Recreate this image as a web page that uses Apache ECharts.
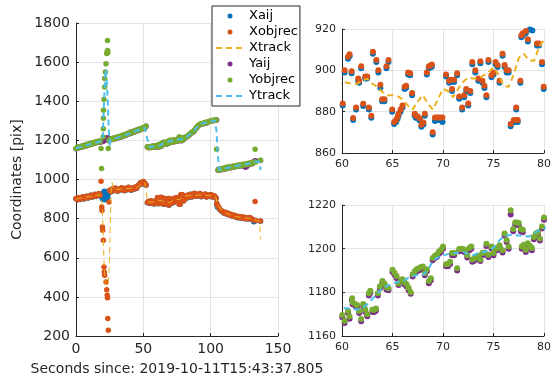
<!DOCTYPE html>
<html>
<head>
<meta charset="utf-8">
<script src="https://cdn.jsdelivr.net/npm/echarts/dist/echarts.min.js"></script>
<style>
  html, body { margin: 0; padding: 0; background: #fff; }
  #chart { width: 554px; height: 383px; }
</style>
</head>
<body>
<div id="chart"></div>
<script>
// detections, X coordinate (time in s since start)
const tX = [
  0,1,2,3,4,5,6,7,8,9,10,11,12,13,14,15,16,17,18,
  18.6,19.1,19.3,19.6,19.8,20.3,20.8,21.0,21.3,22.3,22.8,23.2,23.4,23.6,24.0,24.5,
  25,26,27,28,29,30,31,32,33,34,35,36,37,38,39,40,41,42,43,44,45,46,47,48,49,50,51,52,
  53,54,55,56,57,58,59,
  60.07,60.26,60.6,60.75,60.95,61.1,61.4,61.6,61.7,61.9,
  62.1,62.3,62.5,62.66,62.9,63.06,63.4,63.6,63.8,63.98,
  64.2,64.4,64.6,64.97,65.16,65.36,65.5,65.6,65.8,65.99,
  66.2,66.35,66.55,66.75,66.94,67.2,67.3,67.5,67.7,67.86,
  68.06,68.2,68.4,68.6,68.8,68.9,68.98,69.2,69.4,69.55,
  69.75,69.95,70.3,70.6,70.75,70.9,71.1,71.4,71.6,71.9,
  72.1,72.3,72.5,72.7,72.9,73.2,73.5,73.7,73.9,74.1,
  74.3,74.5,74.8,75.0,75.2,75.4,75.6,75.9,76.1,76.3,
  76.5,76.7,77.0,77.2,77.25,77.4,77.66,77.76,77.9,78.06,
  78.2,78.4,78.6,78.85,79.05,79.3,79.5,79.8,79.97,
  81,82,83,84,85,86,87,88,89,90,91,92,93,94,95,96,97,98,99,100,101,102,103,
  104,104.5,105,106,107,108,109,110,111,112,113,114,115,116,117,118,119,120,121,122,
  123,124,125,126,127,128,129,130,131,132,133,133.5,137
];
const xObjrec = [
  903,897,908,899,905,912,901,909,915,906,913,920,910,918,924,914,922,928,919,
  991,860,842,757,740,689,553,527,510,476,437,408,396,289,229,885,
  945,938,952,944,956,948,941,953,947,958,950,944,955,949,960,952,946,957,951,962,955,968,975,984,978,990,982,972,
  882,889,878,891,884,876,887,
  884,900,906.6,907.8,899.6,876.9,882,896,895,902,
  883.8,897,897,882,878,909,905,900,893,886,
  886,902,905,881,875,876,877.4,879,881,883,
  892,892.6,899,898.6,889,879,878,877.7,876.7,873.7,
  874.8,879,899,902,902.5,902.8,870,877.2,877.2,877.2,
  877.2,877.2,898,895,895.4,891,895.4,898.6,887.3,882,
  888,891,884,890,904,900,896,904.4,895,892.5,
  888,905,897.6,899,904,902.6,895,908,902.6,900,
  900,874,876,876,882,876,895,917,918,923,
  919,915,920.8,920.3,921.8,913,913,904,892,
  915,905,920,910,925,912,921,930,915,924,918,928,913,922,917,926,911,920,915,923,912,918,914,
  905,880,868,858,846,840,835,829,832,824,827,819,822,815,818,810,813,806,811,804,
  809,802,807,800,805,799,806,801,796,792,888,790,788
];
const xAij = [
  902,896,907,898,904,911,900,908,914,905,912,919,909,917,923,913,921,927,918,
  921,915,908,925,899,930,905,940,896,920,935,902,925,912,930,938,
  944,937,951,943,955,947,940,952,946,957,949,943,954,948,959,951,945,956,950,961,954,967,974,983,977,989,981,971,
  881,888,877,890,883,875,886,
  883,899,905.6,906.8,898.6,876,881,895,894,901,
  882.8,896,896,881,877,908,904,899,891.5,885,
  885,901,904,880,874,875,876.4,878,880,882,
  891,891.6,898,897.6,888,878,877,876.7,875.7,872.7,
  873.8,878,898,901,901.5,901.8,869,875.5,876,876,
  876,875,897,894,894.4,890,894.4,897.6,886.3,881,
  887,890,883,889,903,899,895,903.4,894,891.5,
  887,904,896.6,898,903,901.6,894,907,901.6,899,
  899,873,875,875,881,875,894,916,917,922,
  918,914,919.8,919.3,920.8,912,912,903,891,
  914,904,919,909,924,911,920,929,914,923,917,927,912,921,916,925,910,919,914,922,911,917,913,
  904,872,860,856,845,839,834,828,831,823,826,818,821,814,817,809,812,805,810,803,
  808,801,806,799,804,798,805,800,795,784,791,789,787
];

// detections, Y coordinate
const tY = [
  0,1,2,3,4,5,6,7,8,9,10,11,12,13,14,15,16,17,18,
  18.6,19.0,20.2,20.3,20.35,20.4,20.8,21.2,21.3,21.8,22.3,22.8,23.3,23.4,23.5,23.6,24.0,24.5,
  25,26,27,28,29,30,31,32,33,34,35,36,37,38,39,40,41,42,43,44,45,46,47,48,49,50,51,52,
  53,54,55,56,57,58,59,
  60.03,60.26,60.6,60.75,61.0,61.05,61.35,61.5,61.7,61.9,
  62.1,62.2,62.3,62.5,62.66,62.8,63.0,63.2,63.36,63.55,
  63.75,64.0,64.2,64.4,64.6,65.0,65.2,65.4,65.6,65.85,
  66.0,66.2,66.4,66.6,66.8,67.0,67.2,67.4,67.6,67.8,
  68.0,68.2,68.4,68.6,68.8,68.98,69.2,69.4,69.6,69.8,
  70.0,70.3,70.5,70.7,70.9,71.1,71.4,71.6,71.8,72.0,
  72.2,72.4,72.6,72.8,72.9,73.1,73.3,73.5,73.7,73.9,
  74.1,74.3,74.5,74.8,75.0,75.2,75.4,75.6,75.9,76.1,
  76.3,76.5,76.7,76.95,77.15,77.35,77.5,77.7,77.8,77.9,
  78.0,78.2,78.4,78.6,78.8,79.0,79.2,79.4,79.6,79.8,
  80.0,
  81,82,83,84,85,86,87,88,89,90,91,92,93,94,95,96,97,98,99,100,101,102,103,104,104.4,
  105.5,106,107,108,109,110,111,112,113,114,115,116,117,118,119,120,121,122,123,124,
  125,126,127,128,129,130,131,132,133,133.5,137
];
const yObjrec = [
  1158,1165,1162,1169,1166,1173,1170,1177,1174,1181,1178,1185,1182,1189,1186,1193,1190,1197,1194,
  1159,1056,1217,1260,1313,1354,1410,1473,1516,1550,1592,1644,1655,1711,1660,1648,1158,1199,
  1203,1208,1205,1212,1209,1216,1213,1220,1217,1225,1222,1230,1227,1235,1232,1241,1238,1246,1243,1251,
  1248,1256,1253,1261,1259,1266,1263,1273,
  1167,1163,1169,1164,1171,1166,1172,
  1169.6,1166.9,1171.5,1168.9,1177.3,1175.5,1174.5,1174.2,1171.5,1167.8,
  1174.7,1174,1172,1170,1179.6,1180.7,1172,1172,1172.6,1179.6,
  1182.7,1185.2,1184,1182.3,1181.9,1190.3,1189,1187.5,1184,1185.7,
  1186,1184.6,1183.7,1182,1180,1188.3,1189.7,1190.6,1191,1191.5,
  1191.8,1188.8,1190.6,1185.2,1186.5,1195.7,1196.7,1197.3,1198.7,1199.5,
  1201,1192.9,1193,1194,1198,1198,1191,1199.8,1200,1199.8,
  1199.2,1197,1200.3,1201,1195,1195.5,1196.3,1196.7,1195,1198,
  1198.3,1202.2,1197.2,1201,1198,1200,1200.4,1201.6,1199.3,1207,
  1204,1201,1217.6,1209,1212,1212,1211.7,1209,1201,1208.7,
  1201.8,1199.5,1202.5,1201.3,1200.3,1205.3,1207,1207.5,1204.7,1210.2,
  1214.3,
  1213,1219,1222,1229,1235,1241,1244,1252,1262,1270,1277,1282,1286,1284,1289,1292,1290,1295,1297,1299,1301,1303,1302,1305,1154,
  1048,1053,1050,1056,1052,1059,1055,1062,1058,1065,1061,1068,1064,1070,1067,1073,1069,1075,1071,1078,
  1074,1080,1077,1083,1079,1086,1082,1089,1154,1090,1098
];
const yAij = [
  1157,1164,1161,1168,1165,1172,1169,1176,1173,1180,1177,1184,1181,1188,1185,1192,1189,1196,1193,
  1192,1194,1196,1199,1197,1201,1203,1206,1204,1208,1210,1207,1211,1213,1209,1212,1200,1198,
  1202,1207,1204,1211,1208,1215,1212,1219,1216,1224,1221,1229,1226,1234,1231,1240,1237,1245,1242,1250,
  1247,1255,1252,1260,1258,1265,1262,1272,
  1166,1162,1168,1163,1170,1165,1171,
  1168.6,1165.9,1170.5,1167.9,1176.3,1174.5,1173.5,1173.2,1170.5,1166.8,
  1173.7,1173,1171,1169,1178.6,1179.7,1171,1171,1171.6,1178.6,
  1181.7,1184.2,1183,1181.3,1180.9,1189.3,1188,1186.5,1183.4,1184.7,
  1185,1183.6,1182.7,1181,1179.3,1187.3,1188.7,1189.6,1190,1190.5,
  1190.8,1187.8,1189.6,1184.2,1185.5,1194.7,1195.7,1196.3,1197.7,1198.5,
  1200,1191.9,1192,1193,1197,1197,1190,1198.8,1199,1198.8,
  1198.2,1196,1199.3,1200,1194,1194.5,1195.3,1195.7,1194.4,1197,
  1197.3,1201.2,1196.2,1200,1197,1199,1199.4,1200.6,1198.3,1206,
  1203,1200,1215.6,1208,1211,1211,1210.7,1208,1200,1207.5,
  1200.8,1198.5,1201.5,1200.3,1199.3,1204.3,1206,1206.5,1203.7,1209.2,
  1213.3,
  1212,1218,1221,1228,1234,1240,1243,1251,1261,1269,1276,1281,1285,1283,1288,1291,1289,1294,1296,1298,1300,1302,1301,1304,1304,
  1047,1052,1049,1055,1051,1058,1054,1061,1057,1064,1060,1067,1063,1069,1066,1072,1068,1074,1070,1077,
  1066,1063,1068,1082,1078,1085,1081,1092,1096,1094,1097
];

// tracker output
const tXtrack = [
  0,2,4,6,8,10,12,14,16,18,19,19.6,20.3,21,21.8,22.8,23.8,24.7,25.5,26.2,
  26.8,27.5,29,31,33,35,37,39,41,43,45,47,49,51,51.8,52.5,53.5,55,57,59,
  60,60.5,61,61.5,62,62.5,63,63.5,64,64.5,65,65.5,66,66.5,67,67.5,68,68.5,69,69.5,
  70,70.5,71,71.5,72,72.5,73,73.5,74,74.5,75,75.5,76,76.5,77,77.5,78,78.5,79,79.5,80,
  81,83,85,87,89,91,93,95,97,99,101,103,104,105,106,108,110,112,114,116,
  118,120,122,124,126,128,130,132,134,136,136.5,137
];
const xTrack = [
  900,903,906,907,910,912,915,918,920,922,905,850,700,540,470,455,470,540,780,960,
  985,955,948,950,951,952,953,954,955,956,958,968,980,982,960,915,885,884,885,889,
  894.5,894,893.5,893.5,895,896,893.5,892,889.5,888,888,887.5,886,883,881,885,888,884,881,886,
  891,890,887,891,894.5,896.5,896,896,897.5,899,901.5,898,892.5,892,898,906,908,905,904.5,911,915,
  914,916,918,919,920,920,920,919,918,918,917,916,905,880,862,845,833,826,821,817,
  812,809,807,805,803,802,800,796,792,786,770,695
];
const tYtrack = [
  0,2,4,6,8,10,12,14,16,18,19,19.8,20.5,21.2,21.8,22.3,22.8,23.5,24.3,25,
  25.6,27,29,31,33,35,37,39,41,43,45,47,49,51,51.5,53,55,57,59,
  60,60.5,61,61.5,62,62.5,63,63.5,64,64.5,65,65.5,66,66.5,67,67.5,68,68.5,69,69.5,
  70,70.5,71,71.5,72,72.5,73,73.5,74,74.5,75,75.5,76,76.5,77,77.5,78,78.5,79,79.5,80,
  81,83,85,87,89,91,93,95,97,99,101,103,103.5,104.3,105,105.8,106.4,107,109,111,
  113,115,117,119,121,123,125,127,129,131,133,135,136.5,137
];
const yTrack = [
  1160,1164,1168,1172,1176,1180,1183,1187,1190,1194,1196,1200,1340,1460,1540,1565,1555,1420,1260,1165,
  1203,1206,1210,1214,1219,1223,1228,1233,1238,1244,1249,1254,1259,1265,1258,1205,1166,1167,1170,
  1172.7,1172.7,1172.5,1172,1173,1174.5,1177,1179.5,1182,1183,1184,1184.8,1185,1186.5,1187.5,1188,1188,1190,1194.5,1196,
  1197,1197.5,1197.8,1198.2,1198.5,1197.5,1197,1198,1198.5,1199,1200.5,1203.5,1205.5,1206.2,1206.3,1206,1206,1205.5,1207,1208.5,1209,
  1212,1222,1234,1244,1262,1276,1284,1289,1292,1296,1300,1302,1302,1250,1160,1080,1048,1051,1054,1057,
  1060,1063,1066,1069,1072,1075,1078,1080,1083,1086,1089,1092,1090,1048
];

const colors = {
  Xaij: '#0072BD', Xobjrec: '#D95319', Xtrack: '#EDB120',
  Yaij: '#7E2F8E', Yobjrec: '#77AC30', Ytrack: '#4DBEEE'
};
const FONT = 'DejaVu Sans';
const INK = '#262626';

function zip(t, v) {
  return t.map((x, i) => [x, v[i]]);
}

function dots(name, t, v, g, size) {
  return {
    name, type: 'scatter', xAxisIndex: g, yAxisIndex: g,
    data: zip(t, v), symbolSize: size, silent: true,
    itemStyle: { color: colors[name], opacity: 1 }
  };
}

function track(name, t, v, width, g) {
  return {
    name, type: 'line', xAxisIndex: g, yAxisIndex: g,
    data: zip(t, v), showSymbol: false, symbol: 'none', silent: true,
    lineStyle: { color: colors[name], width, type: [6, 4] },
    itemStyle: { color: colors[name] }
  };
}

function axis(fs, extra) {
  return Object.assign({
    type: 'value',
    axisLine: { show: true, onZero: false, lineStyle: { color: INK, width: 1 } },
    axisTick: { show: true, inside: true, length: 3, lineStyle: { color: INK } },
    axisLabel: {
      color: INK, fontSize: fs, fontFamily: FONT, margin: 6,
      showMinLabel: true, showMaxLabel: true,
      formatter: v => String(v)
    },
    splitLine: { show: true, lineStyle: { color: '#e3e3e3', width: 1 } }
  }, extra);
}

const chart = echarts.init(document.getElementById('chart'), null, { renderer: 'canvas' });

const series = [];
// left: whole recording
series.push(dots('Xaij', tX, xAij, 0, 5.5));
series.push(dots('Xobjrec', tX, xObjrec, 0, 5.5));
series.push(track('Xtrack', tXtrack, xTrack, 1, 0));
series.push(dots('Yaij', tY, yAij, 0, 5.5));
series.push(dots('Yobjrec', tY, yObjrec, 0, 5.5));
series.push(track('Ytrack', tYtrack, yTrack, 2, 0));
// top right: X zoom
series.push(dots('Xaij', tX, xAij, 1, 6));
series.push(dots('Xobjrec', tX, xObjrec, 1, 6));
series.push(track('Xtrack', tXtrack, xTrack, 2, 1));
// bottom right: Y zoom
series.push(dots('Yaij', tY, yAij, 2, 6));
series.push(dots('Yobjrec', tY, yObjrec, 2, 6));
series.push(track('Ytrack', tYtrack, yTrack, 2, 2));

chart.setOption({
  animation: false,
  backgroundColor: '#fff',
  textStyle: { fontFamily: FONT },
  grid: [
    { left: 76, top: 23, width: 202, height: 313 },
    { left: 342, top: 29, width: 203, height: 124 },
    { left: 342, top: 205, width: 203, height: 131 }
  ],
  xAxis: [
    axis(14, {
      gridIndex: 0, min: 0, max: 150, interval: 50,
      name: 'Seconds since: 2019-10-11T15:43:37.805', nameLocation: 'middle', nameGap: 26,
      nameTextStyle: { color: INK, fontSize: 14, fontFamily: FONT }
    }),
    axis(11, { gridIndex: 1, min: 60, max: 80, interval: 5 }),
    axis(11, { gridIndex: 2, min: 60, max: 80, interval: 5 })
  ],
  yAxis: [
    axis(14, {
      gridIndex: 0, min: 200, max: 1800, interval: 200,
      name: 'Coordinates [pix]', nameLocation: 'middle', nameGap: 52,
      nameTextStyle: { color: INK, fontSize: 14, fontFamily: FONT }
    }),
    axis(11, { gridIndex: 1, min: 860, max: 920, interval: 20 }),
    axis(11, { gridIndex: 2, min: 1160, max: 1220, interval: 20 })
  ],
  legend: {
    orient: 'vertical', left: 212, top: 6,
    itemWidth: 28, itemHeight: 5, itemGap: 2,
    padding: [3, 2, 3, 3],
    borderColor: INK, borderWidth: 1, backgroundColor: '#fff',
    selectedMode: false,
    textStyle: { fontSize: 13, lineHeight: 14, color: '#000', fontFamily: FONT },
    data: [
      'Xaij', 'Xobjrec', { name: 'Xtrack', itemStyle: { opacity: 0 } },
      'Yaij', 'Yobjrec', { name: 'Ytrack', itemStyle: { opacity: 0 } }
    ]
  },
  series
});
</script>
</body>
</html>
